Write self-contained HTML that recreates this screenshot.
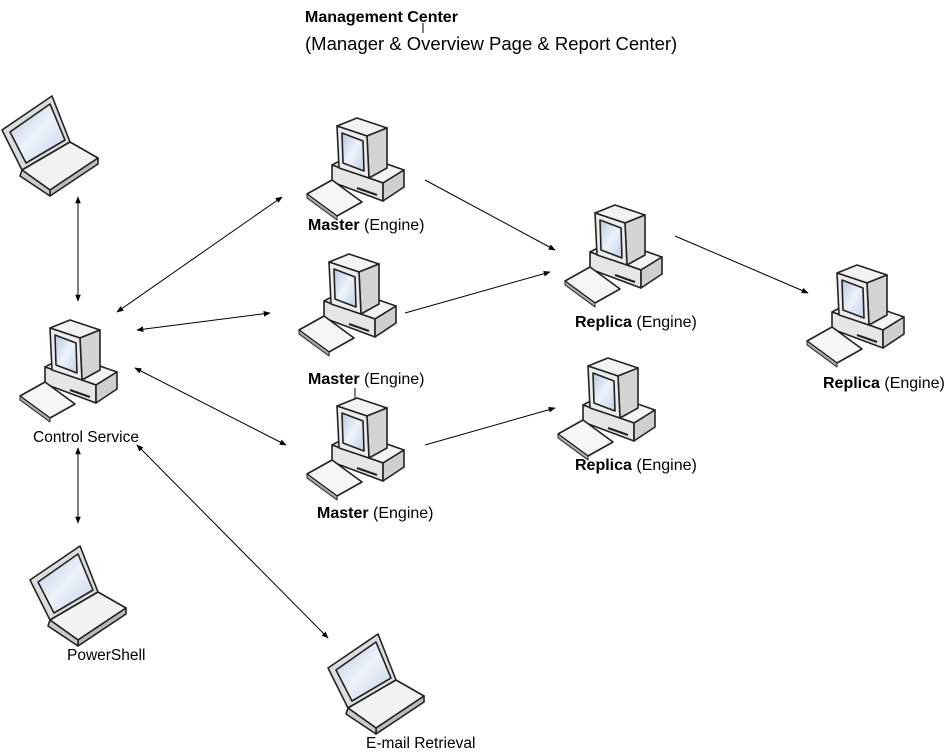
<!DOCTYPE html>
<html><head><meta charset="utf-8"><style>
html,body{margin:0;padding:0;background:#fff;}
svg{display:block;font-family:"Liberation Sans",Arial,sans-serif;}
</style></head><body>
<svg width="945" height="753" viewBox="0 0 945 753" xmlns="http://www.w3.org/2000/svg">
<defs>
<linearGradient id="scr" x1="0" y1="0" x2="1" y2="1"><stop offset="0" stop-color="#b8c8e0"/><stop offset="0.5" stop-color="#eef3fb"/><stop offset="1" stop-color="#c0cfe6"/></linearGradient>
<marker id="a" viewBox="0 0 10 10" refX="9" refY="5" markerWidth="7" markerHeight="7" orient="auto-start-reverse"><path d="M0,1 L10,5 L0,9 z" fill="#000"/></marker>
<g id="pc" stroke="#222" stroke-width="1.6" stroke-linejoin="round">
 <polygon points="27,47 50,35 99,52 78,65" fill="#f4f4f4"/>
 <polygon points="27,47 78,65 78,83 27,64" fill="#e6e6e6"/>
 <polygon points="78,65 99,52 99,69 78,83" fill="#cfcfcf"/>
 <line x1="52" y1="70" x2="72" y2="77" stroke-width="2"/>
 <polygon points="32,8 52,0 82,10 62,18" fill="#f2f2f2"/>
 <polygon points="62,18 82,10 82,50 64,60" fill="#d4d4d4"/>
 <polygon points="32,8 62,18 64,60 34,50" fill="#ececec"/>
 <polygon points="37,15 58,23 59,53 38,45" fill="url(#scr)"/>
 <polygon points="2,76 27,62 57,84 32,98" fill="#f6f6f6"/>
 <polygon points="2,76 32,98 32,102 2,80" fill="#aaa" stroke-width="1"/>
</g>
<g id="lt" stroke="#222" stroke-width="1.6" stroke-linejoin="round">
 <polygon points="2,40 52,6 70,52 22,80" fill="#ddd"/>
 <polygon points="10,42 50,14 65,50 26,73" fill="url(#scr)"/>
 <polygon points="22,80 70,52 98,68 50,100" fill="#f2f2f2"/>
 <polygon points="50,100 98,68 98,74 50,106" fill="#bbb"/>
 <polygon points="22,80 50,100 50,106 20,86" fill="#ccc"/>
</g>
</defs>

<text x="305" y="22" font-size="16" font-weight="bold">Management Center</text>
<line x1="423" y1="23" x2="423" y2="33" stroke="#000"/>
<text x="305" y="50" font-size="18.5">(Manager &amp; Overview Page &amp; Report Center)</text>

<g stroke="#000" stroke-width="1" fill="none">
<line x1="78" y1="197" x2="78" y2="301" marker-start="url(#a)" marker-end="url(#a)"/>
<line x1="78" y1="448" x2="78" y2="523" marker-start="url(#a)" marker-end="url(#a)"/>
<line x1="117" y1="312" x2="282" y2="197" marker-start="url(#a)" marker-end="url(#a)"/>
<line x1="137" y1="330" x2="270" y2="313" marker-start="url(#a)" marker-end="url(#a)"/>
<line x1="135" y1="368" x2="286" y2="445" marker-start="url(#a)" marker-end="url(#a)"/>
<line x1="137" y1="445" x2="328" y2="638" marker-start="url(#a)" marker-end="url(#a)"/>
<line x1="425" y1="180" x2="555" y2="250" marker-end="url(#a)"/>
<line x1="405" y1="313" x2="550" y2="272" marker-end="url(#a)"/>
<line x1="425" y1="445" x2="555" y2="408" marker-end="url(#a)"/>
<line x1="675" y1="236" x2="808" y2="293" marker-end="url(#a)"/>
<line x1="355" y1="388" x2="355" y2="408"/>
</g>

<use href="#lt" x="0" y="90"/>
<use href="#lt" x="28" y="540"/>
<use href="#lt" x="326" y="628"/>
<use href="#pc" x="305" y="118"/>
<use href="#pc" x="297" y="254"/>
<use href="#pc" x="305" y="398"/>
<use href="#pc" x="563" y="205"/>
<use href="#pc" x="556" y="358"/>
<use href="#pc" x="805" y="265"/>
<use href="#pc" x="18" y="320"/>

<g font-size="16">
<text x="308" y="230"><tspan font-weight="bold">Master</tspan> (Engine)</text>
<text x="308" y="384"><tspan font-weight="bold">Master</tspan> (Engine)</text>
<text x="317" y="518"><tspan font-weight="bold">Master</tspan> (Engine)</text>
<text x="575" y="327"><tspan font-weight="bold">Replica</tspan> (Engine)</text>
<text x="575" y="470"><tspan font-weight="bold">Replica</tspan> (Engine)</text>
<text x="823" y="388"><tspan font-weight="bold">Replica</tspan> (Engine)</text>
<text x="33" y="442" font-size="15.5">Control Service</text>
<text x="67" y="660" font-size="15.5">PowerShell</text>
<text x="366" y="748" font-size="15.5">E-mail Retrieval</text>
</g>
</svg>
</body></html>
